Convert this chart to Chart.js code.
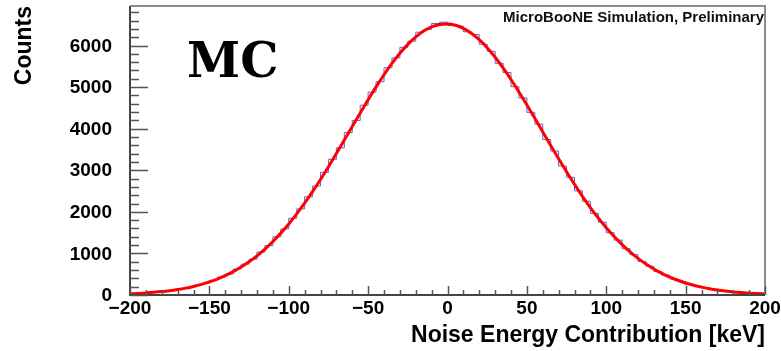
<!DOCTYPE html>
<html>
<head>
<meta charset="utf-8">
<script src="https://cdn.jsdelivr.net/npm/chart.js@4/dist/chart.umd.min.js"></script>
<style>
  html, body { margin: 0; padding: 0; background: #fff; }
  #wrap { width: 781px; height: 351px; }
</style>
</head>
<body>
<div id="wrap"><canvas id="c" width="781" height="351"></canvas></div>
<script>
// ---- data ----
// histogram: 5 keV bins, left edges from -200 to 195
const binStart = -200;
const binWidth = 5;
const histCounts = [
  35, 44, 58, 70, 96, 115, 152, 181, 236, 279,
  355, 430, 505, 625, 742, 862, 1035, 1188, 1400, 1590,
  1845, 2071, 2362, 2620, 2950, 3262, 3540, 3905, 4198, 4565,
  4880, 5130, 5465, 5702, 5955, 6105, 6320, 6390, 6530, 6560,
  6480, 6465, 6330, 6262, 6030, 5860, 5572, 5350, 5010, 4740,
  4392, 4110, 3740, 3462, 3100, 2830, 2505, 2256, 1962, 1750,
  1498, 1320, 1112, 968, 806, 692, 566, 481, 388, 325,
  258, 215, 168, 137, 105, 86, 65, 52, 38, 31
];

// gaussian fit curve, sampled every 5 keV
const fitX = [
  -200, -195, -190, -185, -180, -175, -170, -165, -160, -155,
  -150, -145, -140, -135, -130, -125, -120, -115, -110, -105,
  -100, -95, -90, -85, -80, -75, -70, -65, -60, -55,
  -50, -45, -40, -35, -30, -25, -20, -15, -10, -5,
  0, 5, 10, 15, 20, 25, 30, 35, 40, 45,
  50, 55, 60, 65, 70, 75, 80, 85, 90, 95,
  100, 105, 110, 115, 120, 125, 130, 135, 140, 145,
  150, 155, 160, 165, 170, 175, 180, 185, 190, 195, 200
];
const fitY = [
  29, 38, 49, 64, 82, 104, 132, 165, 206, 255,
  314, 384, 466, 561, 672, 799, 942, 1105, 1286, 1488,
  1709, 1950, 2210, 2487, 2779, 3086, 3402, 3726, 4053, 4378,
  4697, 5005, 5297, 5568, 5813, 6027, 6206, 6348, 6448, 6506,
  6519, 6488, 6413, 6296, 6139, 5945, 5718, 5462, 5183, 4883,
  4571, 4249, 3922, 3596, 3275, 2962, 2661, 2374, 2103, 1852,
  1618, 1405, 1211, 1037, 882, 745, 625, 521, 431, 354,
  289, 235, 189, 151, 120, 95, 74, 58, 45, 34, 26
];

const yTickLabels = ['0', '1000', '2000', '3000', '4000', '5000', '6000'];

const xMin = -200, xMax = 200;
const yMin = 0, yMax = 6950;
const xMajor = 50, xMinor = 10;
const yMajor = 1000, yMinor = 200;

// ---- build datasets ----
const histPts = histCounts.map((v, i) => ({ x: binStart + i * binWidth, y: v }));
histPts.push({ x: binStart + histCounts.length * binWidth, y: histCounts[histCounts.length - 1] });
const fitPts = fitX.map((x, i) => ({ x: x, y: fitY[i] }));

const SANS = "'Liberation Sans', Arial, sans-serif";

function fmtMinus(v){ return v < 0 ? '\u2212' + Math.abs(v) : String(v); }

// inward ticks + frame, ROOT style
const frameAxes = {
  id: 'frameAxes',
  afterDatasetsDraw(chart){
    const ctx = chart.ctx, a = chart.chartArea;
    const xs = chart.scales.x, ys = chart.scales.y;
    ctx.save();
    // top / right frame
    ctx.strokeStyle = '#8c8c8c';
    ctx.lineWidth = 2;
    ctx.beginPath();
    ctx.moveTo(a.left, a.top); ctx.lineTo(a.right, a.top); ctx.lineTo(a.right, a.bottom);
    ctx.stroke();
    // axes
    ctx.strokeStyle = '#444';
    ctx.beginPath();
    ctx.moveTo(a.left, a.top); ctx.lineTo(a.left, a.bottom); ctx.lineTo(a.right, a.bottom);
    ctx.stroke();
    // ticks
    ctx.lineWidth = 1.5;
    ctx.strokeStyle = '#555';
    ctx.beginPath();
    for (let v = yMin; v <= yMax; v += yMinor) {
      const py = Math.round(ys.getPixelForValue(v)) + 0.5;
      const len = (v % yMajor === 0) ? 18 : 9;
      ctx.moveTo(a.left, py); ctx.lineTo(a.left + len, py);
    }
    for (let v = xMin; v <= xMax; v += xMinor) {
      const px = Math.round(xs.getPixelForValue(v)) + 0.5;
      const len = (v % xMajor === 0) ? 9 : 5;
      ctx.moveTo(px, a.bottom); ctx.lineTo(px, a.bottom - len);
    }
    ctx.stroke();
    // y tick labels
    ctx.fillStyle = '#000';
    ctx.font = 'bold 19px ' + SANS;
    ctx.textAlign = 'right';
    ctx.textBaseline = 'middle';
    yTickLabels.forEach(t => {
      ctx.fillText(t, 112, ys.getPixelForValue(Number(t)) + 1);
    });
    ctx.restore();
  },
  afterDraw(chart){
    const ctx = chart.ctx;
    ctx.save();
    ctx.fillStyle = '#000';
    ctx.font = "bold 48px 'DejaVu Serif', serif";
    ctx.textAlign = 'left';
    ctx.textBaseline = 'alphabetic';
    ctx.fillText('MC', 187, 77);
    ctx.font = 'bold 15px ' + SANS;
    ctx.textAlign = 'right';
    ctx.fillStyle = '#111';
    ctx.fillText('MicroBooNE Simulation, Preliminary', 764, 22);
    ctx.restore();
  }
};

new Chart(document.getElementById('c'), {
  type: 'line',
  data: {
    datasets: [
      {
        label: 'fit',
        data: fitPts,
        borderColor: '#ff0000',
        borderWidth: 3,
        pointRadius: 0,
        tension: 0.4,
        cubicInterpolationMode: 'monotone',
        fill: false,
        order: 0
      },
      {
        label: 'hist',
        data: histPts,
        borderColor: 'rgb(95,95,225)',
        borderWidth: 1,
        pointRadius: 0,
        stepped: 'before',
        fill: false,
        order: 1
      }
    ]
  },
  options: {
    responsive: false,
    animation: false,
    events: [],
    layout: { padding: { left: 0, right: 16, top: 6, bottom: 0 } },
    plugins: { legend: { display: false }, tooltip: { enabled: false } },
    scales: {
      x: {
        type: 'linear',
        min: xMin, max: xMax,
        grid: { display: false, drawTicks: false },
        border: { display: false },
        ticks: {
          stepSize: xMajor,
          autoSkip: false,
          maxRotation: 0,
          padding: 2,
          color: '#000',
          font: { family: SANS, size: 19, weight: 'bold' },
          callback: v => fmtMinus(v)
        },
        title: {
          display: true,
          text: 'Noise Energy Contribution [keV]',
          align: 'end',
          color: '#000',
          font: { family: SANS, size: 23, weight: 'bold', lineHeight: 1 },
          padding: { top: 0, bottom: 4 }
        },
        afterFit(s){ s.height = 56; s.paddingLeft = 0; s.paddingRight = 0; }
      },
      y: {
        type: 'linear',
        min: yMin, max: yMax,
        grid: { display: false, drawTicks: false },
        border: { display: false },
        ticks: { display: false, stepSize: yMajor },
        title: {
          display: true,
          text: 'Counts',
          align: 'end',
          color: '#000',
          font: { family: SANS, size: 23, weight: 'bold', lineHeight: 1 },
          padding: { top: 13, bottom: 0 }
        },
        afterFit(s){ s.width = 130; s.paddingTop = 0; s.paddingBottom = 0; }
      }
    }
  },
  plugins: [frameAxes]
});
</script>
</body>
</html>
